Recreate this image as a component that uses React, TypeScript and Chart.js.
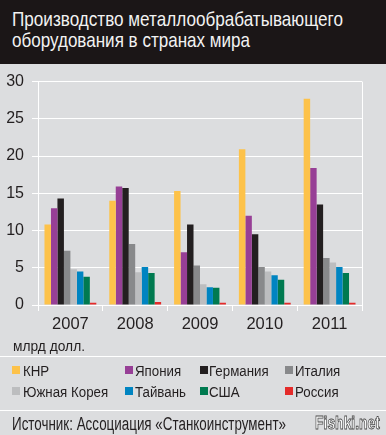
import React, { useEffect, useRef } from 'react';
import { Chart, registerables } from 'chart.js';

Chart.register(...registerables);

const categories = ['2007', '2008', '2009', '2010', '2011'];
const seriesNames = ['КНР', 'Япония', 'Германия', 'Италия', 'Южная Корея', 'Тайвань', 'США', 'Россия'];
const knr = [10.8, 14.0, 15.3, 20.9, 27.7];
const yaponiya = [13.0, 15.9, 7.1, 12.0, 18.4];
const germaniya = [14.3, 15.7, 10.8, 9.5, 13.5];
const italiya = [7.3, 8.2, 5.3, 5.1, 6.3];
const yuzhnayaKoreya = [4.8, 4.4, 2.8, 4.5, 5.7];
const taivan = [4.5, 5.1, 2.4, 4.0, 5.1];
const ssha = [3.8, 4.3, 2.3, 3.4, 4.3];
const rossiya = [0.3, 0.4, 0.3, 0.3, 0.3];
const seriesColors = ['#fdc24a', '#973f96', '#231f20', '#88898b', '#bcbdbf', '#0084c1', '#007a50', '#e42b2a'];
const yTicks = [0, 5, 10, 15, 20, 25, 30];

const titleLines = ['Производство металлообрабатывающего', 'оборудования в странах мира'];
const unitLabel = 'млрд долл.';
const sourceText = 'Источник: Ассоциация «Станкоинструмент»';
const watermark = 'Fishki.net';

const FAMILY = '"Liberation Sans", Arial, sans-serif';
const BG = '#dcdddf';
const INK = '#231f20';
const ASC = 0.8465; // baseline offset in a box with line-height = font-size

let mctx: CanvasRenderingContext2D | null = null;
function measure(text: string, size: number, weight = 'normal'): number {
  if (!mctx) mctx = document.createElement('canvas').getContext('2d');
  if (!mctx) return text.length * size * 0.5;
  mctx.font = `${weight} ${size}px ${FAMILY}`;
  return mctx.measureText(text).width;
}

function Txt(props: { text: string; x: number; baseline: number; size: number; scale: number; color?: string; weight?: string; style?: any }) {
  const { text, x, baseline, size, scale, color, weight, style } = props;
  return (
    <div style={{ position: 'absolute', left: x, top: baseline - ASC * size, fontSize: size, lineHeight: `${size}px`, whiteSpace: 'nowrap', transform: `scaleX(${scale})`, transformOrigin: '0 0', color: color || INK, fontWeight: weight || 'normal', ...(style || {}) }}>
      {text}
    </div>
  );
}

// legend layout
const legendSquareX = [12, 125, 200, 285];
const legendTextX = [23, 135, 209, 295];
const legendBaselines = [376, 397];
const legendTargetTotal = 388;

export default function App() {
  const ref = useRef<HTMLCanvasElement | null>(null);

  useEffect(() => {
    if (!ref.current) return;
    const values = [knr, yaponiya, germaniya, italiya, yuzhnayaKoreya, taivan, ssha, rossiya];
    const chart = new Chart(ref.current, {
      type: 'bar',
      data: {
        labels: categories,
        datasets: values.map((v, i) => ({
          label: seriesNames[i],
          data: v,
          backgroundColor: seriesColors[i],
          borderWidth: 0,
          categoryPercentage: 0.8,
          barPercentage: 1.0,
        })),
      },
      options: {
        responsive: false,
        animation: false,
        layout: { padding: { top: 13, right: 24, left: 0, bottom: 0 } },
        plugins: { legend: { display: false }, tooltip: { enabled: false } },
        scales: {
          x: {
            offset: true,
            grid: {
              offset: true,
              drawOnChartArea: true,
              color: (c: any) => (c.index === 0 || c.type === 'scale' ? '#ffffff' : 'rgba(0,0,0,0)'),
              tickColor: '#ffffff',
              tickLength: 6,
              lineWidth: 1,
            },
            border: { display: true, color: '#ffffff', width: 1 },
            ticks: { font: { family: FAMILY, size: 16.5 }, color: INK, padding: 4, maxRotation: 0 },
            afterFit: (s: any) => { s.height = 35; },
          },
          y: {
            min: 0,
            max: 30,
            afterBuildTicks: (s: any) => { s.ticks = yTicks.map((v) => ({ value: v })); },
            grid: { color: '#ffffff', tickColor: '#ffffff', tickLength: 6, lineWidth: 1 },
            border: { display: true, color: '#ffffff', width: 1 },
            ticks: { font: { family: FAMILY, size: 16 }, color: INK, padding: 8 },
            afterFit: (s: any) => { s.width = 38; },
          },
        },
      },
    });
    return () => chart.destroy();
  }, []);

  const titleSize = 21;
  const t1 = 331 / measure(titleLines[0], titleSize);
  const t2 = 238 / measure(titleLines[1], titleSize);
  const unitSize = 15;
  const uScale = 72 / measure(unitLabel, unitSize);
  const legSize = 15.5;
  const legScale = legendTargetTotal / seriesNames.reduce((a, n) => a + measure(n, legSize), 0);
  const srcSize = 18;
  const srcScale = 274 / measure(sourceText, srcSize);
  const wmSize = 17.5;
  const wmScale = 65 / measure(watermark, wmSize, 'bold');

  return (
    <div style={{ position: 'absolute', left: 0, top: 0, width: 386, height: 435, background: BG, overflow: 'hidden', fontFamily: FAMILY, color: INK }}>
      <div style={{ position: 'absolute', left: 0, top: 0, width: 386, height: 64, background: '#1b1617' }} />
      <Txt text={titleLines[0]} x={12} baseline={26} size={titleSize} scale={t1} color="#f2f2f2" />
      <Txt text={titleLines[1]} x={12} baseline={47} size={titleSize} scale={t2} color="#f2f2f2" />
      <canvas ref={ref} width={386} height={276} style={{ position: 'absolute', left: 0, top: 64, width: 386, height: 276 }} />
      <Txt text={unitLabel} x={13} baseline={350.5} size={unitSize} scale={uScale} />
      <div style={{ position: 'absolute', left: 0, top: 355.5, width: 386, height: 1, background: '#ffffff' }} />
      {seriesNames.map((name, idx) => {
        const r = Math.floor(idx / 4);
        const c = idx % 4;
        const bl = legendBaselines[r];
        return (
          <React.Fragment key={name}>
            <div style={{ position: 'absolute', left: legendSquareX[c], top: bl - 10, width: 8, height: 8, background: seriesColors[idx] }} />
            <Txt text={name} x={legendTextX[c]} baseline={bl} size={legSize} scale={legScale} />
          </React.Fragment>
        );
      })}
      <div style={{ position: 'absolute', left: 0, top: 410, width: 386, height: 1, background: '#ffffff' }} />
      <Txt text={sourceText} x={12} baseline={430.5} size={srcSize} scale={srcScale} />
      <Txt text={watermark} x={315} baseline={430} size={wmSize} scale={wmScale} color="#ffffff" weight="bold" style={{ WebkitTextStroke: '0.8px #4a4a4a' }} />
    </div>
  );
}
